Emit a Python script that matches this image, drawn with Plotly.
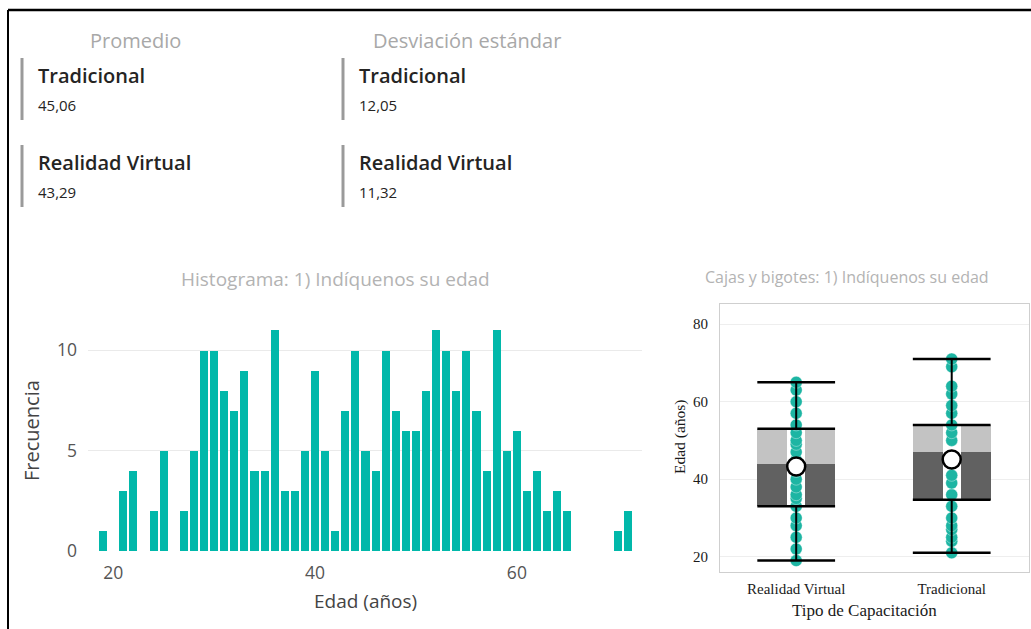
import plotly.graph_objects as go

# ---------------- data ----------------
hist_ages = [19, 21, 22, 24, 25, 27, 28, 29, 30, 31, 32, 33, 34, 35, 36, 37, 38, 39, 40,
             41, 42, 43, 44, 45, 46, 47, 48, 49, 50, 51, 52, 53, 54, 55, 56, 57, 58, 59,
             60, 61, 62, 63, 64, 65, 70, 71]
hist_counts = [1, 3, 4, 2, 5, 2, 5, 10, 10, 8, 7, 9, 4, 4, 11, 3, 3, 5, 9,
               5, 1, 7, 10, 5, 4, 10, 7, 6, 6, 8, 11, 10, 8, 10, 7, 4, 11, 5,
               6, 3, 4, 2, 3, 2, 1, 2]

box_groups = ["Realidad Virtual", "Tradicional"]
box_low = [19, 21]
box_q1 = [33, 34.7]
box_median = [44, 47]
box_q3 = [53, 54]
box_high = [65, 71]
box_mean = [43.29, 45.06]

rv_ages = [19, 22, 25, 28, 30, 33, 35, 36, 38, 40, 42, 45, 47, 49, 50, 52, 54, 57,
           60, 63, 65]
trad_ages = [21, 24, 25, 27, 28, 30, 33, 36, 39, 41, 44, 46, 50, 52, 54, 57, 59,
             62, 64, 69, 71]

card_headers = ["Promedio", "Desviación estándar"]
card_labels = ["Tradicional", "Realidad Virtual"]
mean_values = ["45,06", "43,29"]
sd_values = ["12,05", "11,32"]

# ---------------- helpers ----------------
W, H = 1031, 629          # reference pixel grid
FIG_H = 640               # rendered height (viewport)
def px(x):
    return x / W
def py(y):
    return 1 - y / H

TEAL = "#01B8AA"
SANS = "Open Sans"
SERIF = "Liberation Serif"

fig = go.Figure()

# Histogram
fig.add_trace(go.Bar(x=hist_ages, y=hist_counts, marker=dict(color=TEAL, line=dict(width=0)),
                     width=0.8, xaxis="x", yaxis="y", hoverinfo="x+y", showlegend=False))

# Box plot: two-tone boxes
xpos = [0, 1]
fig.add_trace(go.Bar(x=xpos, y=[m - q for m, q in zip(box_median, box_q1)], base=box_q1,
                     width=0.5, marker=dict(color="#616161", line=dict(width=0)),
                     xaxis="x2", yaxis="y2", showlegend=False))
fig.add_trace(go.Bar(x=xpos, y=[q - m for q, m in zip(box_q3, box_median)], base=box_median,
                     width=0.5, marker=dict(color="#c3c3c3", line=dict(width=0)),
                     xaxis="x2", yaxis="y2", showlegend=False))
fig.add_trace(go.Bar(x=xpos, y=[q3 - q1 for q3, q1 in zip(box_q3, box_q1)], base=box_q1,
                     width=0.115, marker=dict(color="white", line=dict(width=0)),
                     xaxis="x2", yaxis="y2", showlegend=False))

# dots
fig.add_trace(go.Scatter(x=[0] * len(rv_ages), y=rv_ages, mode="markers",
                         marker=dict(color="#1db5a3", size=12, line=dict(color="rgba(255,255,255,0.6)", width=0.6)),
                         xaxis="x2", yaxis="y2", showlegend=False))
fig.add_trace(go.Scatter(x=[1] * len(trad_ages), y=trad_ages, mode="markers",
                         marker=dict(color="#1db5a3", size=12, line=dict(color="rgba(255,255,255,0.6)", width=0.6)),
                         xaxis="x2", yaxis="y2", showlegend=False))

# whiskers (vertical)
wx, wy = [], []
for i, x in enumerate(xpos):
    wx += [x, x, None, x, x, None]
    wy += [box_low[i], box_q1[i], None, box_q3[i], box_high[i], None]
fig.add_trace(go.Scatter(x=wx, y=wy, mode="lines", line=dict(color="black", width=2),
                         xaxis="x2", yaxis="y2", showlegend=False, hoverinfo="skip"))

# horizontal lines: caps, q1, q3
hx, hy = [], []
for i, x in enumerate(xpos):
    for v in [box_low[i], box_q1[i], box_q3[i], box_high[i]]:
        hx += [x - 0.25, x + 0.25, None]
        hy += [v, v, None]
fig.add_trace(go.Scatter(x=hx, y=hy, mode="lines", line=dict(color="black", width=2.5),
                         xaxis="x2", yaxis="y2", showlegend=False, hoverinfo="skip"))

# means
fig.add_trace(go.Scatter(x=xpos, y=box_mean, mode="markers",
                         marker=dict(color="white", size=18, line=dict(color="black", width=2.5)),
                         xaxis="x2", yaxis="y2", showlegend=False))

# ---------------- layout ----------------
annotations = []
# card headers
annotations.append(dict(x=px(135), y=py(40), text=card_headers[0], showarrow=False,
                        xref="paper", yref="paper", xanchor="center", yanchor="middle",
                        font=dict(family=SANS, size=20, color="#a8a8a8")))
annotations.append(dict(x=px(467), y=py(40), text=card_headers[1], showarrow=False,
                        xref="paper", yref="paper", xanchor="center", yanchor="middle",
                        font=dict(family=SANS, size=20, color="#a8a8a8")))
shapes = []
for col_x, values in [(22, mean_values), (343, sd_values)]:
    for j, (lab, val) in enumerate(zip(card_labels, values)):
        top = 58 + j * 87
        shapes.append(dict(type="line", xref="paper", yref="paper",
                           x0=px(col_x), x1=px(col_x), y0=py(top), y1=py(top + 62),
                           line=dict(color="#9a9a9a", width=3)))
        annotations.append(dict(x=px(col_x + 14), y=py(top + 17), text=lab, showarrow=False,
                                xref="paper", yref="paper", xanchor="left", yanchor="middle",
                                font=dict(family=SANS, size=20, color="#252423", weight=600)))
        annotations.append(dict(x=px(col_x + 14), y=py(top + 47), text=val, showarrow=False,
                                xref="paper", yref="paper", xanchor="left", yanchor="middle",
                                font=dict(family=SANS, size=15, color="#252423")))

# titles
annotations.append(dict(x=px(335), y=py(279), text="Histograma: 1) Indíquenos su edad",
                        showarrow=False, xref="paper", yref="paper", xanchor="center", yanchor="middle",
                        font=dict(family=SANS, size=19, color="#b3b3b3")))
annotations.append(dict(x=px(847), y=py(277), text="Cajas y bigotes: 1) Indíquenos su edad",
                        showarrow=False, xref="paper", yref="paper", xanchor="center", yanchor="middle",
                        font=dict(family=SANS, size=16, color="#b3b3b3")))
# axis titles
annotations.append(dict(x=px(365), y=py(601), text="Edad (años)", showarrow=False,
                        xref="paper", yref="paper", xanchor="center", yanchor="middle",
                        font=dict(family=SANS, size=19, color="#444444")))
annotations.append(dict(x=px(31), y=py(431), text="Frecuencia", showarrow=False, textangle=-90,
                        xref="paper", yref="paper", xanchor="center", yanchor="middle",
                        font=dict(family=SANS, size=20, color="#444444")))
annotations.append(dict(x=px(864), y=py(610), text="Tipo de Capacitación", showarrow=False,
                        xref="paper", yref="paper", xanchor="center", yanchor="middle",
                        font=dict(family=SERIF, size=17, color="#1a1a1a")))
annotations.append(dict(x=px(680), y=py(437), text="Edad (años)", showarrow=False, textangle=-90,
                        xref="paper", yref="paper", xanchor="center", yanchor="middle",
                        font=dict(family=SERIF, size=15.5, color="#1a1a1a")))

# outer frame
shapes.append(dict(type="line", xref="paper", yref="paper", x0=px(8), x1=px(8), y0=py(10), y1=py(660),
                   line=dict(color="black", width=2)))
shapes.append(dict(type="line", xref="paper", yref="paper", x0=px(8), x1=px(1040), y0=py(10), y1=py(10),
                   line=dict(color="black", width=2.5)))

fig.update_layout(
    width=W, height=FIG_H, autosize=False,
    margin=dict(l=0, r=0, t=0, b=0),
    paper_bgcolor="white", plot_bgcolor="white",
    barmode="overlay", bargap=0,
    showlegend=False,
    annotations=annotations, shapes=shapes,
    xaxis=dict(domain=[px(88), px(642)], range=[17.5, 72.4], tickvals=[20, 40, 60],
               showgrid=False, zeroline=False, showline=False, ticks="",
               tickfont=dict(family=SANS, size=17.5, color="#555555"), ticklabelstandoff=9),
    yaxis=dict(domain=[py(551), py(314.5)], range=[0, 11.77], tickvals=[0, 5, 10],
               showgrid=True, gridcolor="#eaeaea", gridwidth=1, zeroline=False, showline=False,
               ticks="", tickfont=dict(family=SANS, size=17.5, color="#555555"), ticklabelstandoff=10),
    xaxis2=dict(domain=[px(720), px(1029)], range=[-0.49, 1.497], tickvals=[0, 1],
                ticktext=box_groups, showgrid=False, zeroline=False,
                showline=True, mirror=True, linecolor="#cfcfcf", linewidth=1, ticks="",
                tickfont=dict(family=SERIF, size=15, color="#1a1a1a"), ticklabelstandoff=3,
                anchor="y2"),
    yaxis2=dict(domain=[py(572), py(304)], range=[16.05, 85.2], tickvals=[20, 40, 60, 80],
                showgrid=True, gridcolor="#eeeeee", zeroline=False,
                showline=True, mirror=True, linecolor="#cfcfcf", linewidth=1, ticks="",
                tickfont=dict(family=SERIF, size=15, color="#1a1a1a"), ticklabelstandoff=8,
                anchor="x2"),
)

fig.write_html("out.html", config={"displayModeBar": False},
               post_script="document.body.style.margin='0';document.body.style.overflow='hidden';")
